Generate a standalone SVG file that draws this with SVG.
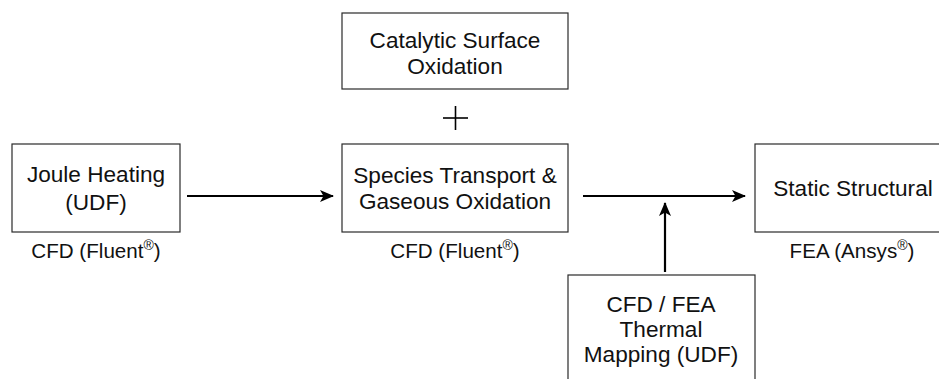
<svg xmlns="http://www.w3.org/2000/svg" width="939" height="379" viewBox="0 0 939 379">
  <style>
    .box { fill: #ffffff; stroke: #2a2a2a; stroke-width: 1.2; }
    .txt { font-family: "Liberation Sans", Arial, sans-serif; font-size: 22.6px; fill: #111111; text-anchor: middle; }
    .lbl { font-family: "Liberation Sans", Arial, sans-serif; font-size: 20.6px; fill: #111111; text-anchor: middle; }
    .sup { font-size: 14px; }
    .edge { fill: none; stroke: #000000; stroke-width: 2.2; }
    .plus { stroke: #000000; stroke-width: 1.6; }
  </style>
  <defs>
    <marker id="arrow" viewBox="0 0 14 12" refX="13" refY="6" markerWidth="14" markerHeight="12" markerUnits="userSpaceOnUse" orient="auto">
      <path d="M0,0 L14,6 L0,12 L3.5,6 Z" fill="#000000"/>
    </marker>
  </defs>

  <rect width="939" height="379" fill="#ffffff"/>

  <g id="joule-heating">
    <rect class="box" x="12" y="144" width="168" height="88"/>
    <text class="txt" x="96" y="182">Joule Heating</text>
    <text class="txt" x="96" y="210">(UDF)</text>
    <text class="lbl" x="96" y="258">CFD (Fluent<tspan class="sup" dy="-8">®</tspan><tspan dy="8">)</tspan></text>
  </g>

  <g id="catalytic-oxidation">
    <rect class="box" x="342" y="13" width="226" height="76"/>
    <text class="txt" x="455" y="48">Catalytic Surface</text>
    <text class="txt" x="455" y="74">Oxidation</text>
  </g>

  <g id="plus-sign">
    <line class="plus" x1="443" y1="118" x2="468" y2="118"/>
    <line class="plus" x1="455.5" y1="106" x2="455.5" y2="130"/>
  </g>

  <g id="species-transport">
    <rect class="box" x="342" y="144" width="226" height="88"/>
    <text class="txt" x="455" y="183">Species Transport &amp;</text>
    <text class="txt" x="455" y="209">Gaseous Oxidation</text>
    <text class="lbl" x="455" y="258">CFD (Fluent<tspan class="sup" dy="-8">®</tspan><tspan dy="8">)</tspan></text>
  </g>

  <g id="static-structural">
    <rect class="box" x="755" y="144" width="190" height="88"/>
    <text class="txt" x="853" y="196">Static Structural</text>
    <text class="lbl" x="852" y="258">FEA (Ansys<tspan class="sup" dy="-8">®</tspan><tspan dy="8">)</tspan></text>
  </g>

  <g id="thermal-mapping">
    <rect class="box" x="568" y="275" width="187" height="112"/>
    <text class="txt" x="661" y="312">CFD / FEA</text>
    <text class="txt" x="661" y="337">Thermal</text>
    <text class="txt" x="661" y="362">Mapping (UDF)</text>
  </g>

  <g id="connectors">
    <line class="edge" x1="187" y1="196" x2="333" y2="196" marker-end="url(#arrow)"/>
    <line class="edge" x1="583" y1="196" x2="745" y2="196" marker-end="url(#arrow)"/>
    <line class="edge" x1="665" y1="272" x2="665" y2="203" marker-end="url(#arrow)"/>
  </g>
</svg>
